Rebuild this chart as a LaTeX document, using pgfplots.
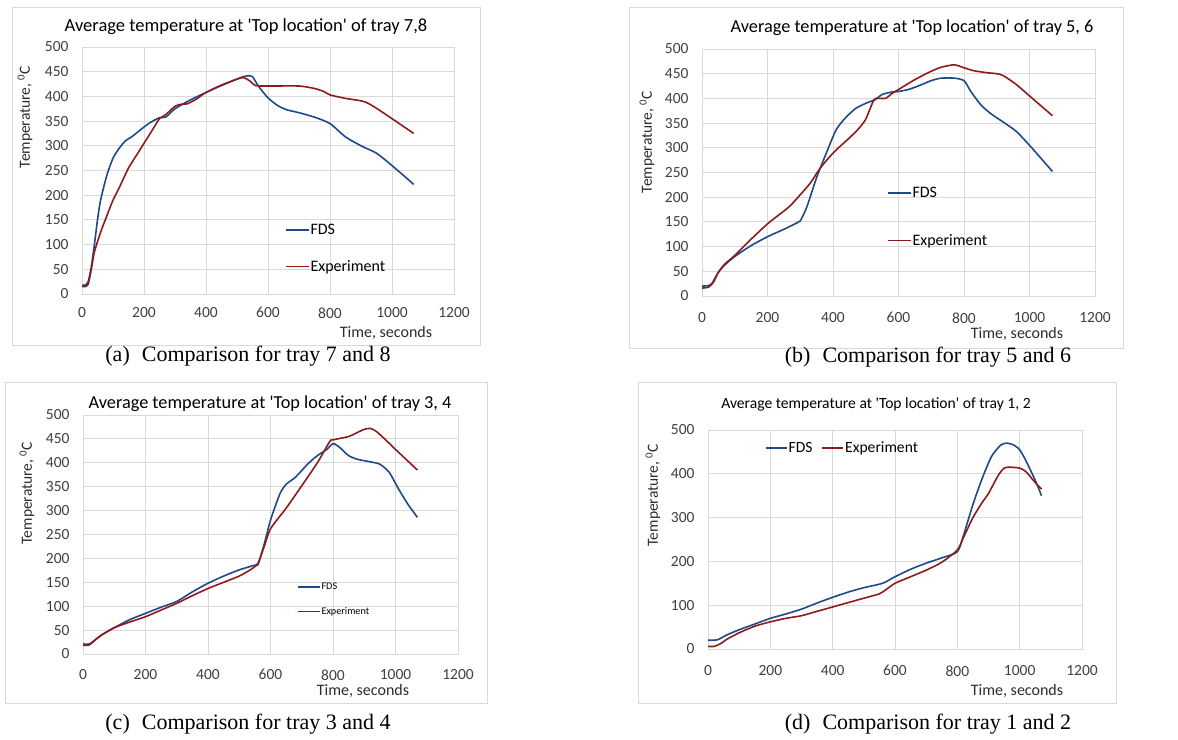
\documentclass[border=0pt]{standalone}
\usepackage{pgfplots}
\pgfplotsset{compat=1.18}
\usepackage{fontspec}
\setmainfont{Liberation Serif}
\newfontfamily\calibri{Carlito}
\definecolor{fdsblue}{RGB}{31,73,135}
\definecolor{expred}{RGB}{142,26,28}
\definecolor{gridc}{RGB}{217,217,217}
\definecolor{tickc}{RGB}{64,64,64}
\newcommand{\fs}[1]{\calibri\fontsize{#1}{#1}\selectfont}
\pgfplotsset{
  legline/.style={legend image code/.code={\draw[##1, line width=1.6pt] (0pt,0pt) -- (#1,0pt);}},
  panel/.style={
    scale only axis, anchor=south west,
    xmin=0, xmax=1200, ymin=0, ymax=500,
    xtick={0,200,...,1200},
    grid=major, major grid style={draw=gridc, line width=0.9pt},
    axis line style={draw=gridc, line width=0.9pt},
    tick style={draw=none},
    ticklabel style={font=\fs{15.5}, text=tickc},
    /pgf/number format/assume math mode=true,
    /pgf/number format/1000 sep={},
    yticklabel shift=10pt,
    legend cell align=left,
    legline=23pt,
  },
  fds/.style={fdsblue, line width=1.6pt, smooth, tension=0.4, no marks},
  exp/.style={expred, line width=1.6pt, smooth, tension=0.4, no marks},
}
\begin{document}
\begin{tikzpicture}[x=1pt,y=1pt]
\useasboundingbox (0,0) rectangle (1178,739);
\fill[white] (0,0) rectangle (1178,739);
% frames
\draw[gridc, line width=0.9pt] (12,394) rectangle (480,732);
\draw[gridc, line width=0.9pt] (629,391) rectangle (1123,732);
\draw[gridc, line width=0.9pt] (5,36) rectangle (487,357);
\draw[gridc, line width=0.9pt] (638,36) rectangle (1116,357);

% ---------- (a) ----------
\begin{axis}[panel, at={(82pt,445pt)}, width=372pt, height=247pt,
  ytick={0,50,...,500}, xticklabel shift=10pt,
  legend style={at={(0.545,0.184)}, anchor=west, draw=none, fill=none,
    font=\fs{16}, row sep=22pt, inner sep=0pt, nodes={inner sep=1pt}}]
\addplot[fds] coordinates {(0,18)(10,18)(20,25)(30,55)(40,100)(50,150)(60,190)(80,240)(100,275)(120,295)(140,310)(160,318)(180,328)(200,338)(220,347)(250,357)(270,358)(300,375)(350,393)(400,408)(450,422)(500,435)(520,440)(540,442)(550,440)(570,420)(600,397)(630,382)(660,373)(700,367)(750,358)(800,345)(850,318)(900,300)(950,285)(1000,260)(1070,222)};
\addlegendentry{FDS}
\addplot[exp] coordinates {(0,15)(10,15)(20,20)(30,50)(40,85)(60,125)(80,158)(100,190)(120,215)(150,255)(180,285)(200,305)(230,335)(250,355)(270,363)(300,380)(320,384)(340,385)(370,395)(400,408)(450,423)(500,435)(520,438)(540,432)(560,422)(600,421)(700,421)(750,416)(780,410)(800,403)(850,396)(900,391)(920,387)(950,376)(1000,355)(1070,325)};
\addlegendentry{Experiment}
\end{axis}
\node[font=\fs{18.5}] at (246,712) {Average temperature at \textquotesingle Top location\textquotesingle\ of tray 7,8};
\node[font=\fs{15.5}, rotate=90, text=tickc!70!black] at (25,622) {Temperature, \textsuperscript{0}C};
\node[font=\fs{16}, text=tickc!70!black] at (386,406) {Time, seconds};
\node[font=\fontsize{22}{22}\selectfont] at (248,383) {(a)\hspace{0.55em}Comparison for tray 7 and 8};

% ---------- (b) ----------
\begin{axis}[panel, at={(702pt,443pt)}, width=393pt, height=247pt,
  ytick={0,50,...,500}, xticklabel shift=13pt,
  legend style={at={(0.47,0.32)}, anchor=west, draw=none, fill=none,
    font=\fs{16}, row sep=33pt, inner sep=0pt, nodes={inner sep=1pt}}]
\addplot[fds] coordinates {(0,20)(20,21)(30,25)(50,48)(70,63)(100,80)(150,102)(200,120)(250,135)(290,148)(300,152)(320,180)(350,240)(380,290)(410,337)(440,362)(470,380)(500,390)(530,398)(550,408)(580,413)(600,414)(630,418)(660,425)(700,436)(730,441)(770,441)(800,436)(820,415)(850,388)(880,370)(920,352)(960,333)(1000,305)(1040,275)(1070,252)};
\addlegendentry{FDS}
\addplot[exp] coordinates {(0,16)(20,18)(35,28)(50,48)(70,65)(100,82)(150,115)(200,146)(250,172)(270,183)(300,205)(330,228)(360,258)(390,282)(420,302)(450,320)(480,340)(500,358)(520,390)(530,400)(560,400)(580,410)(600,418)(650,438)(700,455)(730,463)(770,468)(800,462)(830,456)(870,452)(900,450)(920,446)(960,428)(1000,405)(1070,365)};
\addlegendentry{Experiment}
\end{axis}
\node[font=\fs{18.3}] at (912,711) {Average temperature at \textquotesingle Top location\textquotesingle\ of tray 5, 6};
\node[font=\fs{15.5}, rotate=90, text=tickc!70!black] at (647,597) {Temperature, \textsuperscript{0}C};
\node[font=\fs{16}, text=tickc!70!black] at (1017,405) {Time, seconds};
\node[font=\fontsize{22}{22}\selectfont] at (928,382) {(b)\hspace{0.55em}Comparison for tray 5 and 6};

% ---------- (c) ----------
\begin{axis}[panel, at={(83pt,85pt)}, width=375pt, height=239pt,
  ytick={0,50,...,500}, xticklabel shift=12pt,
  legline=22pt,
  legend style={at={(0.57,0.228)}, anchor=west, draw=none, fill=none,
    font=\fs{10.2}, row sep=14pt, inner sep=0pt, nodes={inner sep=1pt}}]
\addplot[fds] coordinates {(0,21)(20,21)(40,30)(60,40)(100,55)(150,72)(200,85)(250,98)(300,110)(350,130)(400,148)(450,163)(500,176)(550,186)(560,187)(580,230)(600,280)(630,335)(650,355)(680,370)(720,398)(750,415)(780,428)(800,440)(820,433)(850,415)(880,407)(920,402)(950,397)(980,380)(1010,345)(1040,313)(1070,286)};
\addlegendentry{FDS}
\addplot[exp] coordinates {(0,18)(20,19)(40,30)(60,40)(100,55)(150,67)(200,78)(250,92)(300,106)(350,122)(400,137)(450,150)(500,163)(540,178)(560,190)(580,225)(600,262)(650,305)(700,352)(750,400)(790,445)(800,448)(850,455)(880,464)(900,470)(920,472)(940,465)(970,447)(1000,428)(1070,385)};
\addlegendentry{Experiment}
\end{axis}
\node[font=\fs{18.3}] at (270,335) {Average temperature at \textquotesingle Top location\textquotesingle\ of tray 3, 4};
\node[font=\fs{15.5}, rotate=90, text=tickc!70!black] at (27,246) {Temperature, \textsuperscript{0}C};
\node[font=\fs{16}, text=tickc!70!black] at (363,48) {Time, seconds};
\node[font=\fontsize{22}{22}\selectfont] at (248,15) {(c)\hspace{0.55em}Comparison for tray 3 and 4};

% ---------- (d) ----------
\begin{axis}[panel, at={(708pt,90pt)}, width=374pt, height=219pt,
  ytick={0,100,...,500}, xticklabel shift=13pt,
  legend columns=2, legline=21pt,
  legend style={at={(0.152,0.918)}, anchor=west, draw=none, fill=none,
    font=\fs{15.6}, inner sep=0pt, nodes={inner sep=1pt},
    /tikz/every even column/.append style={column sep=8pt}}]
\addplot[fds] coordinates {(0,20)(30,21)(60,32)(100,44)(150,57)(200,70)(250,80)(300,91)(350,105)(400,118)(450,130)(500,140)(560,150)(600,165)(650,182)(700,196)(750,208)(800,222)(820,260)(850,330)(880,390)(910,440)(940,466)(960,470)(980,466)(1000,455)(1020,430)(1050,385)(1070,350)};
\addlegendentry{FDS}
\addplot[exp] coordinates {(0,6)(20,6)(40,12)(60,22)(100,37)(150,52)(200,62)(250,70)(300,76)(350,86)(400,96)(450,106)(500,116)(550,126)(570,135)(600,150)(650,165)(700,180)(750,198)(800,226)(820,255)(850,300)(880,335)(900,355)(930,395)(950,413)(970,415)(1000,413)(1020,405)(1050,380)(1070,365)};
\addlegendentry{Experiment}
\end{axis}
\node[font=\fs{15.6}] at (876,335) {Average temperature at \textquotesingle Top location\textquotesingle\ of tray 1, 2};
\node[font=\fs{15.5}, rotate=90, text=tickc!70!black] at (653,244) {Temperature, \textsuperscript{0}C};
\node[font=\fs{16}, text=tickc!70!black] at (1017,48) {Time, seconds};
\node[font=\fontsize{22}{22}\selectfont] at (928,15) {(d)\hspace{0.55em}Comparison for tray 1 and 2};
\end{tikzpicture}
\end{document}
